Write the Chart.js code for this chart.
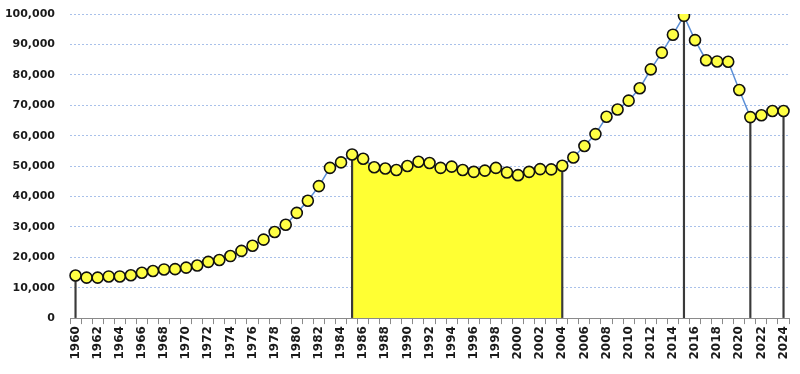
<!DOCTYPE html>
<html>
<head>
<meta charset="utf-8">
<script src="https://cdn.jsdelivr.net/npm/chart.js@4"></script>
<style>
  html, body { margin: 0; padding: 0; background: #fff; }
  #wrap { width: 800px; height: 374px; }
</style>
</head>
<body>
<div id="wrap"><canvas id="chart"></canvas></div>
<script>
const years = [
    "1960","1961","1962","1963","1964","1965","1966","1967","1968","1969",
    "1970","1971","1972","1973","1974","1975","1976","1977","1978","1979",
    "1980","1981","1982","1983","1984","1985","1986","1987","1988","1989",
    "1990","1991","1992","1993","1994","1995","1996","1997","1998","1999",
    "2000","2001","2002","2003","2004","2005","2006","2007","2008","2009",
    "2010","2011","2012","2013","2014","2015","2016","2017","2018","2019",
    "2020","2021","2022","2023","2024"
];
const valores = [
    14000, 13300, 13300, 13700, 13700, 14100, 14900, 15500, 16000, 16100,
    16600, 17300, 18500, 19100, 20400, 22100, 23800, 25800, 28300, 30700,
    34600, 38600, 43400, 49400, 51200, 53800, 52400, 49600, 49200, 48700,
    50000, 51400, 51000, 49400, 49800, 48700, 48100, 48500, 49400, 47900,
    47000, 48100, 49000, 48900, 50100, 52800, 56600, 60500, 66200, 68600,
    71500, 75600, 81800, 87300, 93200, 99400, 91400, 84800, 84400, 84300,
    75000, 66100, 66700, 68100, 68100
];
// tramo sombreado y años con línea vertical
const tramoDesde = "1985";
const tramoHasta = "2004";
const aniosMarcados = ["1960", "1985", "2004", "2015", "2021", "2024"];
const yTicks = [0, 10000, 20000, 30000, 40000, 50000, 60000, 70000, 80000, 90000, 100000];

const iDesde = years.indexOf(tramoDesde);
const iHasta = years.indexOf(tramoHasta);
const tramo = valores.map((v, i) => (i >= iDesde && i <= iHasta ? v : null));
const verticales = valores.map((v, i) => (aniosMarcados.includes(years[i]) ? v : null));

const fuente = { family: "DejaVu Sans", weight: "bold" };

new Chart(document.getElementById("chart"), {
    type: "line",
    data: {
        labels: years,
        datasets: [
            {
                label: "tramo",
                data: tramo,
                fill: "origin",
                backgroundColor: "#ffff33",
                borderWidth: 0,
                pointRadius: 0,
                order: 3
            },
            {
                type: "bar",
                label: "verticales",
                data: verticales,
                backgroundColor: "#3a3a3a",
                barThickness: 1.5,
                order: 2
            },
            {
                label: "valor",
                data: valores,
                borderColor: "#5b8fd6",
                borderWidth: 1.5,
                pointRadius: 5.5,
                pointBackgroundColor: "#ffff44",
                pointBorderColor: "#111",
                pointBorderWidth: 1.6,
                tension: 0,
                fill: false,
                order: 1
            }
        ]
    },
    options: {
        responsive: true,
        maintainAspectRatio: false,
        animation: false,
        layout: { padding: { left: 2, right: 10, top: 0, bottom: 12.5 } },
        plugins: { legend: { display: false }, tooltip: { enabled: false } },
        scales: {
            x: {
                offset: true,
                grid: {
                    offset: true,
                    drawOnChartArea: false,
                    drawTicks: true,
                    tickLength: 6,
                    tickColor: "#8a8a8a"
                },
                border: { display: true, color: "#8a8a8a", width: 1 },
                ticks: {
                    autoSkip: false,
                    maxRotation: 90,
                    minRotation: 90,
                    padding: 2,
                    color: "#1a1a1a",
                    font: { ...fuente, size: 12 },
                    callback: (v, i) => (i % 2 === 0 ? years[i] : "")
                }
            },
            y: {
                min: 0,
                max: 100000,
                afterBuildTicks: axis => { axis.ticks = yTicks.map(v => ({ value: v })); },
                afterFit: axis => {
                    axis.width = 68;
                    axis.paddingTop = 14;
                    axis.paddingBottom = 0;
                },
                grid: { color: "#a9c1ea", lineWidth: 1, drawTicks: false },
                border: { display: false, dash: [2, 2] },
                ticks: {
                    padding: 15,
                    color: "#1a1a1a",
                    font: { ...fuente, size: 11 },
                    callback: v => v.toLocaleString("en-US")
                }
            }
        }
    }
});
</script>
</body>
</html>
